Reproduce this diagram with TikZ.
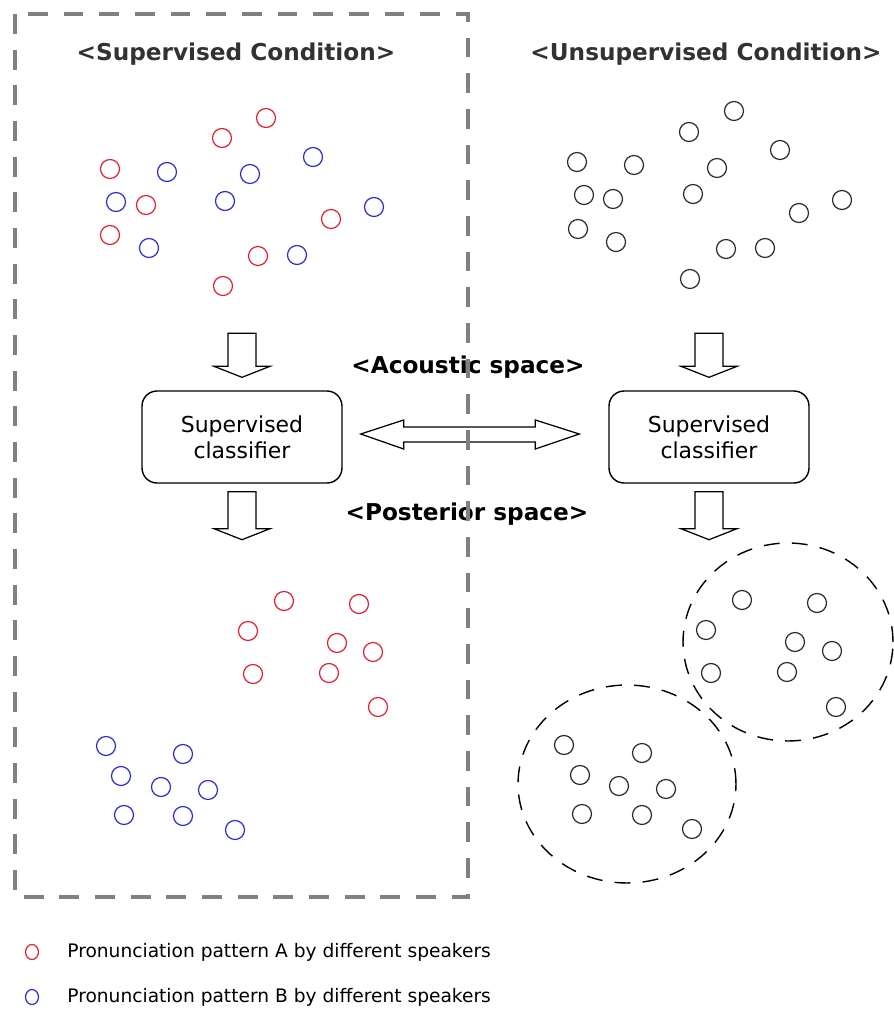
\documentclass[tikz,border=0pt]{standalone}
\usepackage{fontspec}
\setmainfont{DejaVu Sans}
\usetikzlibrary{calc}

\definecolor{patA}{RGB}{218,38,52}
\definecolor{patB}{RGB}{48,48,200}
\definecolor{dotgray}{RGB}{45,45,45}
\definecolor{framegray}{RGB}{128,128,128}
\definecolor{titlegray}{RGB}{50,50,50}

\tikzset{
  dot/.style={circle,draw,line width=0.7pt,inner sep=0pt,minimum size=0.38cm},
  reddot/.style={dot,draw=patA},
  bluedot/.style={dot,draw=patB},
  greydot/.style={dot,draw=dotgray},
  classbox/.style={draw,rounded corners=0.3cm,line width=0.8pt,minimum width=4cm,minimum height=1.84cm,align=center,font=\fontsize{12.5}{14.7}\selectfont},
  heading/.style={font=\fontsize{13.2}{15}\selectfont\bfseries},
  blockarr/.style={draw,fill=white,line width=0.7pt,line join=miter},
  cluster/.style={draw,line width=0.8pt,dash pattern=on 9pt off 7pt},
  frame/.style={draw=framegray,line width=2.6pt,dash pattern=on 11.3pt off 9pt},
  legtext/.style={anchor=west,inner sep=0pt,font=\fontsize{10.6}{12}\selectfont}
}

\begin{document}
\begin{tikzpicture}[x=0.02cm,y=-0.02cm]

\useasboundingbox (0,0) rectangle (893,1014);

% headings
\node[heading,text=titlegray] (suptitle) at (236,54) {<Supervised Condition>};
\node[heading,text=titlegray] (unsuptitle) at (706,54) {<Unsupervised Condition>};
\node[heading] (acoustic) at (468,367) {<Acoustic space>};
\node[heading] (posterior) at (467,514) {<Posterior space>};

% acoustic space, labelled
\foreach \x/\y in {110/169,146/205,110/235,222/138,266/118,331/219,258/256,223/286}
  \node[reddot] at (\x,\y) {};
\foreach \x/\y in {167/172,116/202,149/248,250/174,225/201,313/157,374/207,297/255}
  \node[bluedot] at (\x,\y) {};

% acoustic space, unlabelled
\foreach \x/\y in {577/162,634/165,584/195,613/199,578/229,616/242,689/132,734/111,
                   717/168,693/194,780/150,799/213,842/200,726/249,765/248,690/279}
  \node[greydot] at (\x,\y) {};

% classifiers
\node[classbox] (lbox) at (242,437) {Supervised\\classifier};
\node[classbox] (rbox) at (709,437) {Supervised\\classifier};

% block arrows into and out of the classifiers
\coordinate (lin) at ($(lbox.north)+(0,-13)$);
\coordinate (rin) at ($(rbox.north)+(0,-13)$);
\coordinate (lout) at ($(lbox.south)+(0,8)$);
\coordinate (rout) at ($(rbox.south)+(0,8)$);

\foreach \t in {lin,rin}
  \draw[blockarr] (\t) -- ++(-28,-11) -- ++(14,0) -- ++(0,-33) -- ++(28,0)
                  -- ++(0,33) -- ++(14,0) -- cycle;
\foreach \s in {lout,rout}
  \draw[blockarr] ($(\s)+(-14,0)$) -- ++(28,0) -- ++(0,37) -- ++(14,0) -- ++(-28,11)
                  -- ++(-28,-11) -- ++(14,0) -- cycle;

% double arrow between the two classifiers
\coordinate (dl) at ($(lbox.east)+(18,-3)$);
\coordinate (dr) at ($(rbox.west)+(-29,-3)$);
\draw[blockarr] (dl) -- ++(43,-14) -- ++(0,7) -- ($(dr)+(-44,-7)$) -- ++(0,-7)
  -- (dr) -- ++(-44,15) -- ++(0,-7) -- ($(dl)+(43,8)$) -- ++(0,7) -- cycle;

% posterior space, labelled
\foreach \x/\y in {284/601,359/604,248/631,337/643,373/652,253/674,329/673,378/707}
  \node[reddot] at (\x,\y) {};
\foreach \x/\y in {106/746,183/754,121/776,161/787,208/790,124/815,183/816,235/830}
  \node[bluedot] at (\x,\y) {};

% posterior space, unlabelled
\draw[cluster] (788,642) ellipse [x radius=2.1cm,y radius=1.98cm];
\draw[cluster] (627,784) ellipse [x radius=2.18cm,y radius=1.98cm];
\foreach \x/\y in {742/600,817/603,706/630,795/642,832/651,711/673,787/672,836/707,
                   564/745,642/753,580/775,619/786,666/789,582/814,642/815,692/829}
  \node[greydot] at (\x,\y) {};

% supervised frame
\draw[frame] (15,14) rectangle (468,897);

% legend
\draw[patA,line width=0.7pt] (32,952) ellipse [x radius=0.13cm,y radius=0.15cm];
\draw[patB,line width=0.7pt] (32,997) ellipse [x radius=0.13cm,y radius=0.15cm];
\node[legtext] (legA) at (67,952) {Pronunciation pattern A by different speakers};
\node[legtext] (legB) at (67,997) {Pronunciation pattern B by different speakers};

\end{tikzpicture}
\end{document}
